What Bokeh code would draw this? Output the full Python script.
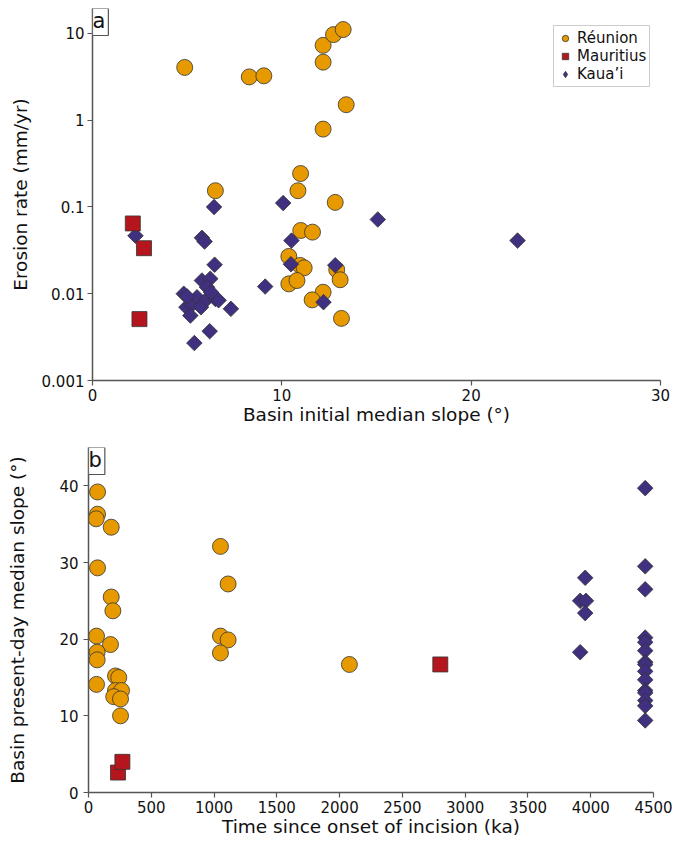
import numpy as np
from bokeh.plotting import figure
from bokeh.layouts import column, row
from bokeh.models import (Range1d, FixedTicker, CustomJSTickFormatter, Legend,
                          LegendItem, Label)
from bokeh.embed import file_html
from bokeh.resources import INLINE

# ---------------- data: panel a ----------------
reu_a_slope = [4.87, 8.28, 9.05, 12.18, 12.73, 13.24, 12.18, 13.4, 12.18, 10.99,
               10.85, 6.49, 12.82, 11.0, 11.62, 10.37, 10.97, 11.18, 10.37, 10.8,
               12.9, 13.08, 12.18, 11.6, 13.15]
reu_a_rate = [4.06, 3.16, 3.25, 7.3, 9.7, 11.1, 4.67, 1.51, 0.79, 0.243,
              0.154, 0.154, 0.113, 0.0536, 0.0513, 0.0269, 0.0212, 0.0199, 0.0130, 0.0142,
              0.0189, 0.0145, 0.0104, 0.0085, 0.0052]
mau_a_slope = [2.13, 2.72, 2.48]
mau_a_rate = [0.0646, 0.0335, 0.0051]
kau_a_slope = [2.27, 6.42, 5.78, 5.92, 6.45, 10.07, 10.51, 10.48, 15.07, 22.45,
               12.82, 12.2, 9.12, 7.31, 6.19, 5.38, 4.82, 5.78, 6.22, 6.05,
               4.96, 5.26, 5.17, 5.52, 5.73, 6.05, 6.49, 6.66, 6.26, 5.0]
kau_a_rate = [0.0466, 0.100, 0.0441, 0.040, 0.0216, 0.111, 0.041, 0.0219, 0.0718, 0.041,
              0.0213, 0.0080, 0.0121, 0.0067, 0.0037, 0.0027, 0.0100, 0.0142, 0.0149, 0.0119,
              0.0070, 0.0075, 0.0056, 0.0091, 0.0070, 0.0087, 0.0087, 0.0084, 0.0104, 0.0093]

# ---------------- data: panel b ----------------
reu_b_time = [72, 72, 61, 181, 72, 181, 194, 64, 175, 69, 69, 64, 215, 241, 215,
              263, 201, 255, 255, 1051, 1112, 1051, 1112, 1051, 2078]
reu_b_slope = [39.2, 36.3, 35.7, 34.6, 29.3, 25.5, 23.7, 20.4, 19.3, 18.3, 17.3, 14.1, 15.2, 15.0, 13.3,
               13.3, 12.5, 12.2, 10.0, 32.1, 27.2, 20.4, 19.9, 18.2, 16.7]
mau_b_time = [235, 270, 2802]
mau_b_slope = [2.6, 4.0, 16.7]
kau_b_time = [4434, 4434, 4434, 3956, 3916, 3962, 3956, 3916, 4434, 4434,
              4434, 4434, 4434, 4434, 4434, 4434, 4434, 4434, 4434, 4434]
kau_b_slope = [39.7, 29.5, 26.5, 28.0, 25.0, 25.0, 23.4, 18.3, 20.2, 19.6,
               18.5, 17.0, 16.7, 15.8, 14.7, 13.3, 13.0, 12.0, 11.3, 9.4]

a_xticks = [0, 10, 20, 30]
a_yticks = [0.001, 0.01, 0.1, 1, 10]
b_xticks = [0, 500, 1000, 1500, 2000, 2500, 3000, 3500, 4000, 4500]
b_yticks = [0, 10, 20, 30, 40]

ORANGE = "#E69A00"
RED = "#B5161E"
PURPLE = "#41307F"
EDGE = "#333333"
FONT = "DejaVu Sans"


def style(p, xticks, yticks):
    p.outline_line_color = None
    p.xgrid.visible = False
    p.ygrid.visible = False
    for ax in (p.xaxis[0], p.yaxis[0]):
        ax.axis_line_color = "#555555"
        ax.axis_line_width = 1.5
        ax.major_tick_line_color = "#555555"
        ax.major_tick_line_width = 1.2
        ax.major_tick_out = 5
        ax.major_tick_in = 0
        ax.minor_tick_line_color = None
        ax.major_label_text_font = FONT
        ax.major_label_text_font_size = "15px"
        ax.major_label_text_color = "#111111"
        ax.axis_label_text_font = FONT
        ax.axis_label_text_font_size = "18.5px"
        ax.axis_label_text_font_style = "normal"
        ax.axis_label_text_color = "#111111"
        ax.major_label_standoff = 3
    p.xaxis[0].axis_label_standoff = 0
    p.xaxis[0].ticker = FixedTicker(ticks=xticks, minor_ticks=[])
    p.yaxis[0].ticker = FixedTicker(ticks=yticks, minor_ticks=[])


def panel_label(p, x, y, text):
    p.add_layout(Label(x=x, y=y, text=text, anchor="top_left", text_font=FONT,
                       text_font_size="21px", text_color="#111111",
                       border_line_color="#555555", border_line_width=1.2,
                       background_fill_color="white", padding=(0, 3, 0, 3)))


# ---------------- panel a ----------------
pa = figure(frame_width=568, frame_height=372, min_border_left=92, min_border_right=20,
            min_border_top=8, min_border_bottom=54,
            x_range=Range1d(0, 30), y_range=Range1d(0.001, 19.4), y_axis_type="log",
            output_backend="svg", toolbar_location=None,
            x_axis_label="Basin initial median slope (°)", y_axis_label="Erosion rate (mm/yr)")
style(pa, a_xticks, a_yticks)
pa.yaxis[0].axis_label_standoff = 8
pa.yaxis[0].formatter = CustomJSTickFormatter(code="return tick.toString();")

ra1 = pa.scatter(reu_a_slope, reu_a_rate, marker="circle", size=16, fill_color=ORANGE,
                 line_color=EDGE, line_width=0.8)
ra3 = pa.scatter(kau_a_slope, kau_a_rate, marker="square", angle=np.pi / 4, size=11,
                 fill_color=PURPLE, line_color=EDGE, line_width=0.8)
ra2 = pa.scatter(mau_a_slope, mau_a_rate, marker="square", size=15, fill_color=RED,
                 line_color=EDGE, line_width=0.8)
# legend-only diamond glyph, placed outside the visible x range
rleg = pa.scatter([-100], [1], marker="diamond", size=16, fill_color=PURPLE,
                  line_color=EDGE, line_width=0.8)

legend = Legend(items=[LegendItem(label="Réunion", renderers=[ra1]),
                       LegendItem(label="Mauritius", renderers=[ra2]),
                       LegendItem(label="Kaua’i", renderers=[rleg])],
                location=(461, 293))
legend.border_line_color = "#999999"
legend.border_line_width = 1
legend.padding = 3
legend.spacing = 0
legend.label_height = 18
legend.glyph_height = 18
legend.glyph_width = 16
legend.label_standoff = 4
legend.label_text_font = FONT
legend.label_text_font_size = "15px"
legend.label_text_color = "#111111"
legend.background_fill_alpha = 1
pa.add_layout(legend)

panel_label(pa, 0, 19.4, "a")

# ---------------- panel b ----------------
pb = figure(frame_width=565, frame_height=345, min_border_left=88, min_border_right=31,
            min_border_top=13, min_border_bottom=45,
            x_range=Range1d(0, 4500), y_range=Range1d(0, 45),
            output_backend="svg", toolbar_location=None,
            x_axis_label="Time since onset of incision (ka)",
            y_axis_label="Basin present-day median slope (°)")
style(pb, b_xticks, b_yticks)
pb.yaxis[0].major_label_standoff = 5
pb.yaxis[0].axis_label_standoff = 28

pb.scatter(reu_b_time, reu_b_slope, marker="circle", size=16, fill_color=ORANGE,
           line_color=EDGE, line_width=0.8)
pb.scatter(kau_b_time, kau_b_slope, marker="square", angle=np.pi / 4, size=11,
           fill_color=PURPLE, line_color=EDGE, line_width=0.8)
pb.scatter(mau_b_time, mau_b_slope, marker="square", size=15, fill_color=RED,
           line_color=EDGE, line_width=0.8)

panel_label(pb, 0, 45, "b")

layout = column(row(pa), row(pb), spacing=0)
open("out.html", "w").write(file_html(layout, INLINE))
